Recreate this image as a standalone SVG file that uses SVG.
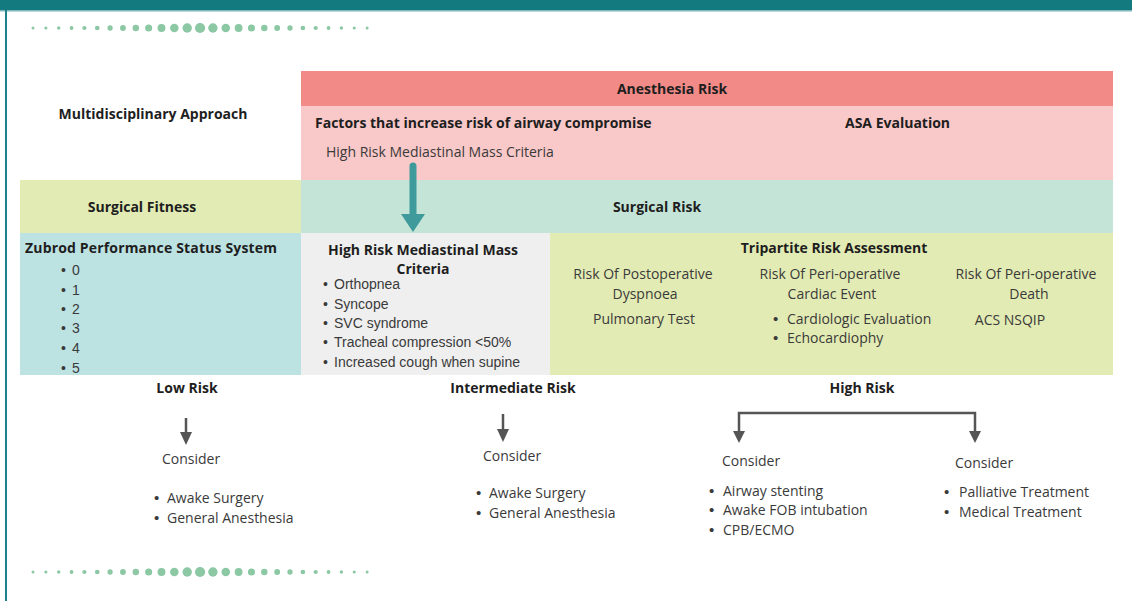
<svg xmlns="http://www.w3.org/2000/svg" xmlns:xlink="http://www.w3.org/1999/xlink" width="1132" height="601" viewBox="0 0 1132 601">
<style>
.b{font-family:"Open Sans","Liberation Sans",sans-serif;font-weight:700;font-size:14px;fill:#1e1e1e}
.r{font-family:"Open Sans","Liberation Sans",sans-serif;font-size:14px;fill:#3a3a3a}
.a{font-family:"Liberation Sans",Arial,sans-serif;font-size:14px;fill:#3a3a3a}
.bu{font-family:"Liberation Sans",Arial,sans-serif;font-size:15px}
.c{text-anchor:middle}
.dot{fill:#8cc8a4}
.gl{fill:none;stroke:#555;stroke-width:2.5}
.gh{fill:#555}
</style>
<defs>
<g id="dots">
<circle class="dot" cx="33" cy="0" r="1.5"/><circle class="dot" cx="45.85" cy="0" r="1.58"/><circle class="dot" cx="58.7" cy="0" r="1.72"/><circle class="dot" cx="71.55" cy="0" r="1.9"/><circle class="dot" cx="84.4" cy="0" r="2.12"/><circle class="dot" cx="97.25" cy="0" r="2.36"/><circle class="dot" cx="110.1" cy="0" r="2.63"/><circle class="dot" cx="122.95" cy="0" r="2.92"/><circle class="dot" cx="135.8" cy="0" r="3.24"/><circle class="dot" cx="148.65" cy="0" r="3.57"/><circle class="dot" cx="161.5" cy="0" r="3.93"/><circle class="dot" cx="174.35" cy="0" r="4.3"/><circle class="dot" cx="187.2" cy="0" r="4.69"/><circle class="dot" cx="200.05" cy="0" r="5.1"/><circle class="dot" cx="212.9" cy="0" r="4.69"/><circle class="dot" cx="225.75" cy="0" r="4.3"/><circle class="dot" cx="238.6" cy="0" r="3.93"/><circle class="dot" cx="251.45" cy="0" r="3.57"/><circle class="dot" cx="264.3" cy="0" r="3.24"/><circle class="dot" cx="277.15" cy="0" r="2.92"/><circle class="dot" cx="290" cy="0" r="2.63"/><circle class="dot" cx="302.85" cy="0" r="2.36"/><circle class="dot" cx="315.7" cy="0" r="2.12"/><circle class="dot" cx="328.55" cy="0" r="1.9"/><circle class="dot" cx="341.4" cy="0" r="1.72"/><circle class="dot" cx="354.25" cy="0" r="1.58"/><circle class="dot" cx="367.1" cy="0" r="1.5"/>
</g>
</defs>
<rect width="1132" height="601" fill="#fff"/>
<g id="frame">
<rect x="0" y="0" width="1132" height="10" fill="#137a80"/>
<rect x="0" y="10" width="1132" height="1.5" fill="#7fb8bb"/>
<rect x="5" y="10" width="2" height="591" fill="#1f8088"/>
<use xlink:href="#dots" href="#dots" transform="translate(0,28)"/>
<use xlink:href="#dots" href="#dots" transform="translate(0,572)"/>
</g>
<g id="multidisciplinary">
<text class="b c" x="153" y="119">Multidisciplinary Approach</text>
</g>
<g id="anesthesia-risk">
<rect x="301" y="71" width="812" height="35" fill="#f28a87"/>
<text class="b c" x="672" y="94">Anesthesia Risk</text>
</g>
<g id="anesthesia-factors">
<rect x="301" y="106" width="812" height="74" fill="#f9c8c8"/>
<text class="b" x="315" y="128">Factors that increase risk of airway compromise</text>
<text class="b" x="845" y="128">ASA Evaluation</text>
<text class="r" x="326" y="157">High Risk Mediastinal Mass Criteria</text>
</g>
<g id="surgical-fitness">
<rect x="20" y="180" width="281" height="53" fill="#e2ebb3"/>
<text class="b c" x="142" y="212">Surgical Fitness</text>
</g>
<g id="surgical-risk">
<rect x="301" y="180" width="812" height="53" fill="#c5e4d8"/>
<text class="b c" x="657" y="212">Surgical Risk</text>
</g>
<g id="zubrod">
<rect x="20" y="233" width="281" height="142" fill="#bde2e2"/>
<text class="b" x="25" y="253" textLength="252">Zubrod Performance Status System</text>
<text class="a"><tspan x="61" y="275">•</tspan><tspan x="72" y="275">0</tspan></text>
<text class="a"><tspan x="61" y="295">•</tspan><tspan x="72" y="295">1</tspan></text>
<text class="a"><tspan x="61" y="314">•</tspan><tspan x="72" y="314">2</tspan></text>
<text class="a"><tspan x="61" y="333">•</tspan><tspan x="72" y="333">3</tspan></text>
<text class="a"><tspan x="61" y="353">•</tspan><tspan x="72" y="353">4</tspan></text>
<text class="a"><tspan x="61" y="373">•</tspan><tspan x="72" y="373">5</tspan></text>
</g>
<g id="mass-criteria">
<rect x="301" y="233" width="249" height="142" fill="#efefef"/>
<text class="b c" x="423" y="255">High Risk Mediastinal Mass</text>
<text class="b c" x="423" y="274">Criteria</text>
<text class="a"><tspan x="323" y="289">•</tspan><tspan x="334" y="289">Orthopnea</tspan></text>
<text class="a"><tspan x="323" y="309">•</tspan><tspan x="334" y="309">Syncope</tspan></text>
<text class="a"><tspan x="323" y="328">•</tspan><tspan x="334" y="328">SVC syndrome</tspan></text>
<text class="a"><tspan x="323" y="347">•</tspan><tspan x="334" y="347">Tracheal compression &lt;50%</tspan></text>
<text class="a"><tspan x="323" y="367">•</tspan><tspan x="334" y="367">Increased cough when supine</tspan></text>
</g>
<g id="tripartite">
<rect x="550" y="233" width="563" height="142" fill="#e2ebb3"/>
<text class="b c" x="834" y="253">Tripartite Risk Assessment</text>
<text class="r c" x="643" y="279">Risk Of Postoperative</text>
<text class="r c" x="645" y="299">Dyspnoea</text>
<text class="r c" x="644" y="324">Pulmonary Test</text>
<text class="r c" x="830" y="279">Risk Of Peri-operative</text>
<text class="r c" x="832" y="299">Cardiac Event</text>
<text class="r"><tspan class="bu" x="773" y="324">•</tspan><tspan x="787" y="324">Cardiologic Evaluation</tspan></text>
<text class="r"><tspan class="bu" x="773" y="343">•</tspan><tspan x="787" y="343">Echocardiophy</tspan></text>
<text class="r c" x="1026" y="279">Risk Of Peri-operative</text>
<text class="r c" x="1029" y="299">Death</text>
<text class="r c" x="1010" y="325">ACS NSQIP</text>
</g>
<g id="connectors">
<line x1="413" y1="166" x2="413" y2="216" stroke="#3f9a9b" stroke-width="7" stroke-linecap="round"/>
<path d="M401 214L425 214L413 232Z" fill="#3f9a9b"/>
<line class="gl" x1="186" y1="418" x2="186" y2="434"/>
<path class="gh" d="M180 432L192 432L186 445Z"/>
<line class="gl" x1="503" y1="414" x2="503" y2="431"/>
<path class="gh" d="M497 429L509 429L503 442Z"/>
<polyline class="gl" points="739,433 739,413 975,413 975,433"/>
<path class="gh" d="M733 431L745 431L739 443Z"/>
<path class="gh" d="M969 431L981 431L975 443Z"/>
</g>
<g id="low-risk">
<text class="b c" x="187" y="393">Low Risk</text>
<text class="r" x="162" y="464">Consider</text>
<text class="r"><tspan class="bu" x="154" y="503">•</tspan><tspan x="167" y="503">Awake Surgery</tspan></text>
<text class="r"><tspan class="bu" x="154" y="523">•</tspan><tspan x="167" y="523">General Anesthesia</tspan></text>
</g>
<g id="intermediate-risk">
<text class="b c" x="513" y="393">Intermediate Risk</text>
<text class="r" x="483" y="461">Consider</text>
<text class="r"><tspan class="bu" x="476" y="498">•</tspan><tspan x="489" y="498">Awake Surgery</tspan></text>
<text class="r"><tspan class="bu" x="476" y="518">•</tspan><tspan x="489" y="518">General Anesthesia</tspan></text>
</g>
<g id="high-risk">
<text class="b c" x="862" y="393">High Risk</text>
<text class="r" x="722" y="466">Consider</text>
<text class="r"><tspan class="bu" x="709" y="496">•</tspan><tspan x="723" y="496">Airway stenting</tspan></text>
<text class="r"><tspan class="bu" x="709" y="515">•</tspan><tspan x="723" y="515">Awake FOB intubation</tspan></text>
<text class="r"><tspan class="bu" x="709" y="535">•</tspan><tspan x="723" y="535">CPB/ECMO</tspan></text>
<text class="r" x="955" y="468">Consider</text>
<text class="r"><tspan class="bu" x="944" y="497">•</tspan><tspan x="959" y="497">Palliative Treatment</tspan></text>
<text class="r"><tspan class="bu" x="944" y="517">•</tspan><tspan x="959" y="517">Medical Treatment</tspan></text>
</g>
</svg>
